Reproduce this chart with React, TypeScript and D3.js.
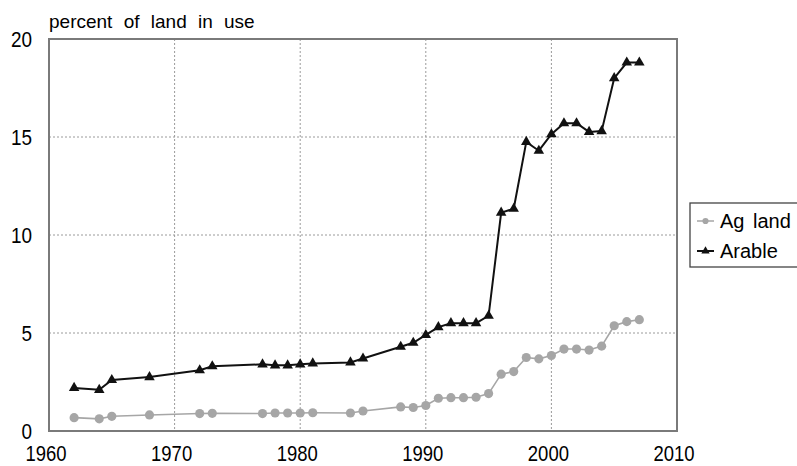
import React, { useEffect, useRef } from "react";
import * as d3 from "d3";

const years = [
  1962, 1964, 1965, 1968, 1972, 1973, 1977, 1978, 1979, 1980, 1981, 1984, 1985,
  1988, 1989, 1990, 1991, 1992, 1993, 1994, 1995, 1996, 1997, 1998, 1999, 2000,
  2001, 2002, 2003, 2004, 2005, 2006, 2007,
];
const agLand = [
  0.68, 0.62, 0.75, 0.82, 0.89, 0.9, 0.89, 0.92, 0.92, 0.92, 0.93, 0.92, 1.02,
  1.23, 1.2, 1.3, 1.67, 1.7, 1.7, 1.72, 1.91, 2.9, 3.03, 3.75, 3.68, 3.85,
  4.18, 4.18, 4.13, 4.33, 5.37, 5.58, 5.68,
];
const arable = [
  2.2, 2.1, 2.6, 2.75, 3.1, 3.3, 3.4, 3.35, 3.35, 3.4, 3.45, 3.5, 3.7, 4.3,
  4.5, 4.9, 5.3, 5.5, 5.5, 5.5, 5.88, 11.14, 11.34, 14.75, 14.3, 15.14, 15.7,
  15.7, 15.26, 15.3, 18.0, 18.8, 18.8,
];
const xTicks = [1960, 1970, 1980, 1990, 2000, 2010];
const yTicks = [0, 5, 10, 15, 20];
const seriesNames = ["Ag land", "Arable"];

const FONT = "'Liberation Sans', Arial, sans-serif";

const App = () => {
  const ref = useRef<SVGSVGElement | null>(null);

  useEffect(() => {
    document.body.style.margin = "0";
    if (!ref.current) return;
    const svg = d3.select(ref.current);
    svg.selectAll("*").remove();

    const left = 49, right = 677, top = 39, bottom = 431;
    const x = d3.scaleLinear().domain([1960, 2010]).range([left, right]);
    const y = d3.scaleLinear().domain([0, 20]).range([bottom, top]);

    // grid
    const grid = svg.append("g");
    grid
      .selectAll(".gx")
      .data(xTicks.slice(1, -1))
      .enter()
      .append("line")
      .attr("x1", (d) => x(d))
      .attr("x2", (d) => x(d))
      .attr("y1", top)
      .attr("y2", bottom)
      .attr("stroke", "#9a9a9a")
      .attr("stroke-width", 1)
      .attr("stroke-dasharray", "2,2");
    grid
      .selectAll(".gy")
      .data(yTicks.slice(1, -1))
      .enter()
      .append("line")
      .attr("x1", left)
      .attr("x2", right)
      .attr("y1", (d) => y(d))
      .attr("y2", (d) => y(d))
      .attr("stroke", "#9a9a9a")
      .attr("stroke-width", 1)
      .attr("stroke-dasharray", "2,2");

    // plot frame
    svg
      .append("rect")
      .attr("x", left)
      .attr("y", top)
      .attr("width", right - left)
      .attr("height", bottom - top)
      .attr("fill", "none")
      .attr("stroke", "#7a7a7a")
      .attr("stroke-width", 2);

    // tick labels (narrow face, like the original)
    svg
      .append("g")
      .selectAll("g")
      .data(xTicks)
      .enter()
      .append("g")
      .attr("transform", (d) => `translate(${x(d) - 3},461) scale(0.86,1)`)
      .append("text")
      .attr("text-anchor", "middle")
      .attr("font-family", FONT)
      .attr("font-size", 21.5)
      .attr("fill", "#000")
      .text((d) => d);
    svg
      .append("g")
      .selectAll("g")
      .data(yTicks)
      .enter()
      .append("g")
      .attr("transform", (d) => `translate(32,${y(d) + 8}) scale(0.88,1)`)
      .append("text")
      .attr("text-anchor", "end")
      .attr("font-family", FONT)
      .attr("font-size", 21.5)
      .attr("fill", "#000")
      .text((d) => d);

    svg
      .append("text")
      .attr("x", 49)
      .attr("y", 28)
      .attr("font-family", FONT)
      .attr("font-size", 19)
      .attr("word-spacing", 6)
      .attr("fill", "#000")
      .text("percent of land in use");

    const line = (vals: number[]) =>
      d3
        .line<number>()
        .x((_, i) => x(years[i]))
        .y((d) => y(d))(vals);

    // Ag land
    svg
      .append("path")
      .attr("d", line(agLand))
      .attr("fill", "none")
      .attr("stroke", "#a6a6a6")
      .attr("stroke-width", 1.6);
    svg
      .append("g")
      .selectAll("path")
      .data(agLand)
      .enter()
      .append("path")
      .attr("transform", (d, i) => `translate(${x(years[i])},${y(d)})`)
      .attr("d", d3.symbol(d3.symbolCircle, 66)())
      .attr("fill", "#a6a6a6");

    // Arable
    svg
      .append("path")
      .attr("d", line(arable))
      .attr("fill", "none")
      .attr("stroke", "#111")
      .attr("stroke-width", 2);
    svg
      .append("g")
      .selectAll("path")
      .data(arable)
      .enter()
      .append("path")
      .attr("transform", (d, i) => `translate(${x(years[i])},${y(d)})`)
      .attr("d", d3.symbol(d3.symbolTriangle, 48)())
      .attr("fill", "#111");

    // legend
    const lg = svg.append("g");
    lg.append("rect")
      .attr("x", 690)
      .attr("y", 203)
      .attr("width", 120)
      .attr("height", 64)
      .attr("fill", "#fff")
      .attr("stroke", "#444")
      .attr("stroke-width", 1.3);
    const colors = ["#a6a6a6", "#111"];
    const symbols = [d3.symbolCircle, d3.symbolTriangle];
    seriesNames.forEach((name, i) => {
      const cy = 221 + i * 30;
      lg.append("line")
        .attr("x1", 697)
        .attr("x2", 714)
        .attr("y1", cy)
        .attr("y2", cy)
        .attr("stroke", colors[i])
        .attr("stroke-width", i === 0 ? 1.5 : 2);
      lg.append("path")
        .attr("transform", `translate(705.5,${cy})`)
        .attr("d", d3.symbol(symbols[i], 30)())
        .attr("fill", colors[i]);
      lg.append("text")
        .attr("x", 720)
        .attr("y", cy + 7)
        .attr("font-family", FONT)
        .attr("font-size", 20)
        .attr("word-spacing", 3)
        .attr("fill", "#000")
        .text(name);
    });
  }, []);

  return <svg ref={ref} width={797} height={466} style={{ display: "block" }} />;
};

export default App;
